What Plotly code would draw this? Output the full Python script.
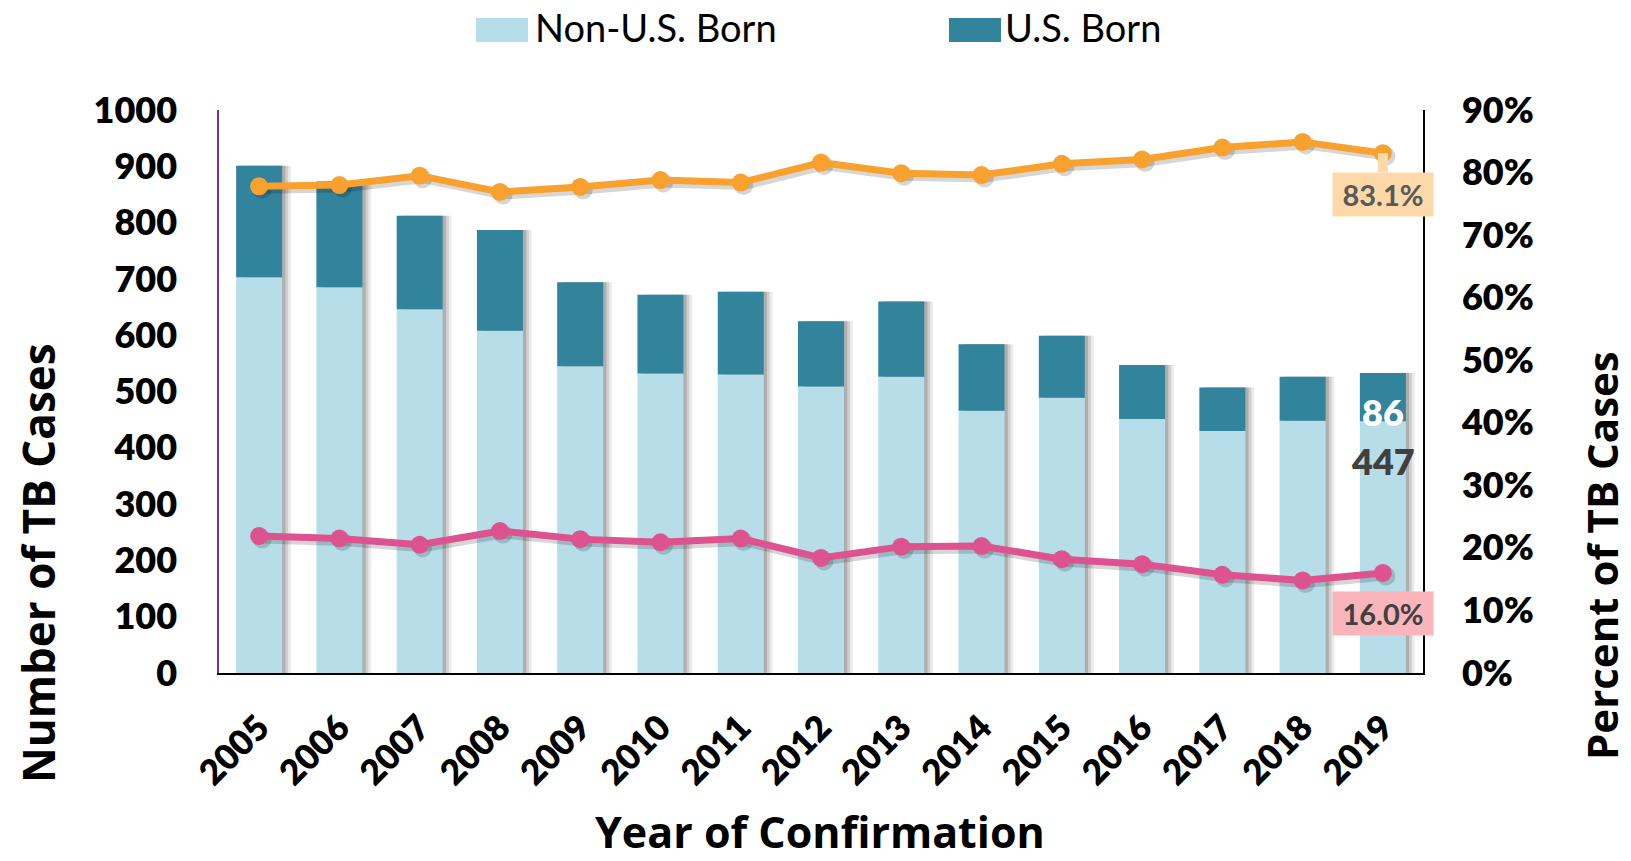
import plotly.graph_objects as go

# ---- data ----
years = [str(y) for y in range(2005, 2020)]
non_us_born = [703, 685, 646, 608, 545, 532, 530, 509, 526, 466, 489, 451, 430, 448, 447]
us_born = [198, 188, 166, 179, 149, 140, 147, 116, 134, 118, 110, 96, 77, 78, 86]
pct_non_us_born = [77.8, 78.0, 79.5, 76.9, 77.7, 78.8, 78.4, 81.6, 79.9, 79.6, 81.4, 82.1, 84.0, 84.9, 83.1]
pct_us_born = [21.9, 21.5, 20.5, 22.7, 21.4, 20.9, 21.5, 18.4, 20.2, 20.3, 18.2, 17.4, 15.7, 14.8, 16.0]
left_ticks = list(range(0, 1001, 100))
right_ticks = list(range(0, 91, 10))

totals = [a + b for a, b in zip(non_us_born, us_born)]

LIGHT = "#B7DDE8"
DARK = "#31849B"
ORANGE = "#F9A12E"
PINK = "#DC5390"
BAR_W = 0.573
FONT = "Lato"
TFONT = "Open Sans"
HEAVY = 800

W, H = 1631, 861
L, R, T, B = 219, 1423, 110, 673
CAT_PX = (R - L) / len(years)

fig = go.Figure()

# soft shadows to the right of each bar
for off, alpha in [(0.11, 0.10), (0.075, 0.16), (0.04, 0.22)]:
    fig.add_trace(go.Bar(
        x=years, y=totals, width=BAR_W, offset=-BAR_W / 2 + off,
        marker=dict(color=f"rgba(60,60,60,{alpha})", line=dict(width=0)),
        showlegend=False, hoverinfo="skip"))

fig.add_trace(go.Bar(
    x=years, y=non_us_born, name="Non-U.S. Born", width=BAR_W, offset=-BAR_W / 2,
    marker=dict(color=LIGHT, line=dict(width=0)), showlegend=False))
fig.add_trace(go.Bar(
    x=years, y=us_born, base=non_us_born, name="U.S. Born", width=BAR_W, offset=-BAR_W / 2,
    marker=dict(color=DARK, line=dict(width=0)), showlegend=False))

# soft shadows under the percentage lines (same data on slightly shifted overlay axes)
for series in (pct_non_us_born, pct_us_born):
    fig.add_trace(go.Scatter(
        x=years, y=series, xaxis="x2", yaxis="y2", mode="lines+markers",
        line=dict(color="rgba(0,0,0,0.16)", width=9), marker=dict(color="rgba(0,0,0,0.16)", size=19),
        showlegend=False, hoverinfo="skip"))

fig.add_trace(go.Scatter(
    x=years, y=pct_non_us_born, xaxis="x3", yaxis="y3", mode="lines+markers",
    name="% Non-U.S. Born", line=dict(color=ORANGE, width=7),
    marker=dict(color=ORANGE, size=18), showlegend=False))
fig.add_trace(go.Scatter(
    x=years, y=pct_us_born, xaxis="x3", yaxis="y3", mode="lines+markers",
    name="% U.S. Born", line=dict(color=PINK, width=7),
    marker=dict(color=PINK, size=18), showlegend=False))


def px(xp):
    return (xp - L) / (R - L)


def py(yp):
    return (B - yp) / (B - T)


last = len(years) - 1
annotations = [
    # data labels / callouts for the last year (x given as category index)
    dict(text=str(us_born[last]), x=last, y=non_us_born[last],
         xref="x", yref="y", showarrow=False, yshift=9, yanchor="middle",
         font=dict(family=FONT, size=36, color="#FFFFFF", weight=HEAVY)),
    dict(text=str(non_us_born[last]), x=last, y=non_us_born[last],
         xref="x", yref="y", showarrow=False, yshift=-40, yanchor="middle",
         font=dict(family=FONT, size=36, color="#404040", weight=HEAVY)),
    dict(text=f"<b>{pct_us_born[last]:.1f}%</b>", x=last, y=pct_us_born[last],
         xref="x", yref="y3", showarrow=False, yshift=-41, bgcolor="#F9B5BA",
         borderpad=4, width=92, font=dict(family=FONT, size=29, color="#404040")),
    dict(text=f"<b>{pct_non_us_born[last]:.1f}%</b>", x=last, y=pct_non_us_born[last],
         xref="x", yref="y3", showarrow=True, ax=0, ay=41, arrowhead=0, arrowwidth=10,
         arrowcolor="#FDD8A8", bgcolor="#FDD8A8", borderpad=4, width=92,
         font=dict(family=FONT, size=29, color="#595959")),
    # legend (manual, to match the large swatches)
    dict(text="Non-U.S. Born", xref="paper", yref="paper", x=px(533), y=py(27),
         xanchor="left", yanchor="middle", showarrow=False,
         font=dict(family=FONT, size=38, color="#000000")),
    dict(text="U.S. Born", xref="paper", yref="paper", x=px(1003), y=py(27),
         xanchor="left", yanchor="middle", showarrow=False,
         font=dict(family=FONT, size=38, color="#000000")),
    # axis titles
    dict(text="<b>Number of TB Cases</b>", xref="paper", yref="paper", x=px(38), y=py(563),
         textangle=-90, showarrow=False, xanchor="center", yanchor="middle",
         font=dict(family=TFONT, size=44, color="#000000")),
    dict(text="<b>Percent of TB Cases</b>", xref="paper", yref="paper", x=px(1601), y=py(556),
         textangle=-90, showarrow=False, xanchor="center", yanchor="middle",
         font=dict(family=TFONT, size=42, color="#000000")),
    dict(text="<b>Year of Confirmation</b>", xref="paper", yref="paper", x=px(820), y=py(831),
         showarrow=False, xanchor="center", yanchor="middle",
         font=dict(family=TFONT, size=43, color="#000000")),
]

shapes = [
    dict(type="rect", xref="paper", yref="paper", x0=px(476), x1=px(528), y0=py(42), y1=py(18),
         fillcolor=LIGHT, line=dict(width=0)),
    dict(type="rect", xref="paper", yref="paper", x0=px(949), x1=px(1001), y0=py(42), y1=py(18),
         fillcolor=DARK, line=dict(width=0)),
]

sx = 3 / CAT_PX          # shadow shift right (category units)
sy = 3 * 90 / (B - T)    # shadow shift down (percent units)
xr = [-0.5, len(years) - 0.5]

fig.update_layout(
    width=W, height=H,
    margin=dict(l=L, r=W - R, t=T, b=H - B, autoexpand=False),
    paper_bgcolor="white", plot_bgcolor="white",
    barmode="overlay",
    showlegend=False,
    shapes=shapes,
    annotations=annotations,
    xaxis=dict(
        type="category", range=xr,
        showline=True, linecolor="#000000", linewidth=2, showgrid=False, zeroline=False,
        ticks="", tickangle=-45, ticklabelstandoff=18,
        tickfont=dict(family=FONT, size=35, color="#000000", weight=HEAVY),
    ),
    xaxis2=dict(type="category", overlaying="x", visible=False, anchor="y2",
                range=[xr[0] - sx, xr[1] - sx]),
    xaxis3=dict(type="category", overlaying="x", visible=False, anchor="y3", range=xr),
    yaxis=dict(
        range=[0, 1000], tickvals=left_ticks, ticktext=[str(v) for v in left_ticks],
        showline=True, linecolor="#7030A0", linewidth=1.5, showgrid=False, zeroline=False,
        ticks="", ticklabelstandoff=33,
        tickfont=dict(family=FONT, size=36, color="#000000", weight=HEAVY),
    ),
    yaxis2=dict(range=[sy, 90 + sy], overlaying="y", visible=False, anchor="x2"),
    yaxis3=dict(
        range=[0, 90], tickvals=right_ticks, ticktext=[f"{v}%" for v in right_ticks],
        overlaying="y", side="right", anchor="x3",
        showline=True, linecolor="#000000", linewidth=1.5, showgrid=False, zeroline=False,
        ticks="", ticklabelstandoff=30,
        tickfont=dict(family=FONT, size=36, color="#000000", weight=HEAVY),
    ),
)

fig.write_html("out.html", config={"displayModeBar": False},
               post_script="document.body.style.margin='0';")
